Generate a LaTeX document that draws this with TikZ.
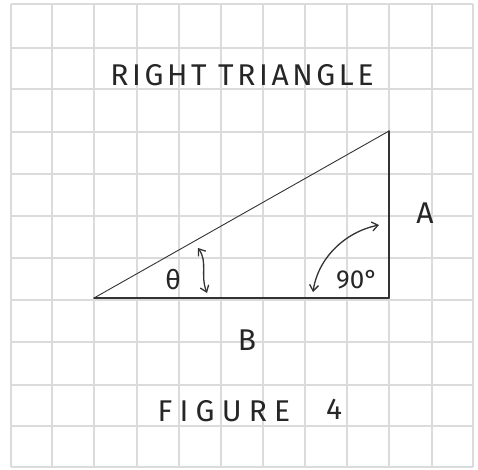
\documentclass[tikz,border=0pt]{standalone}
\usepackage{fontspec}
\setmainfont{Fira Sans}
\newfontfamily\handfont[LetterSpace=12]{Fira Sans}
\newfontfamily\widehand[LetterSpace=24]{Fira Sans}
\usetikzlibrary{arrows.meta}
\begin{document}
\begin{tikzpicture}[x=1pt,y=-1pt,
  gridline/.style={draw=black!14,line width=1.6pt},
  edge/.style={draw=black!80,line width=1.1pt,line cap=round},
  hand/.style={font=\handfont\fontsize{30}{30}\selectfont,text=black!85,inner sep=0pt},
  dbl/.style={draw=black!80,line width=1.3pt,{Straight Barb[length=6pt,width=9pt]}-{Straight Barb[length=6pt,width=9pt]}}]
\useasboundingbox (0,0) rectangle (478,469);
\fill[white] (0,0) rectangle (478,469);
% grid
\foreach \gx in {11,52,94,137,179,221,263,305,347,389,432,473}
  \draw[gridline] (\gx,4) -- (\gx,467);
\foreach \gy in {4,48,89,132,174,216,258,300,342,385,426,467}
  \draw[gridline] (11,\gy) -- (473,\gy);
% triangle
\coordinate (P) at (94,298);
\coordinate (Q) at (389,298);
\coordinate (R) at (389,131);
\draw[edge,line width=0.9pt] (P) -- (R);
\draw[edge] (R) -- (Q);
\draw[edge,line width=1.5pt] (P) -- (Q);
% labels
\node[hand] (title) at (242,75) {RIGHT\ TRIANGLE};
\node[hand] (la) at (425,213) {A};
\node[hand] (lb) at (247,340) {B};
\node[hand,font=\widehand\fontsize{30}{30}\selectfont] (lfig) at (224,411) {FIGURE};
\node[hand] (lfour) at (334,409) {4};
\node[hand,font=\fontsize{27}{27}\selectfont] (theta) at (173,280) {θ};
\node[hand,font=\fontsize{26}{26}\selectfont] (ninety) at (357,280) {90°};
% angle arrows
\coordinate (t1) at (198,248);
\coordinate (t2) at (207,293);
\draw[dbl] (t1) .. controls (208,262) and (200,275) .. (t2);
\coordinate (n1) at (313,292);
\coordinate (n2) at (379,225);
\draw[dbl] (n1) .. controls (318,258) and (345,232) .. (n2);
\end{tikzpicture}
\end{document}
